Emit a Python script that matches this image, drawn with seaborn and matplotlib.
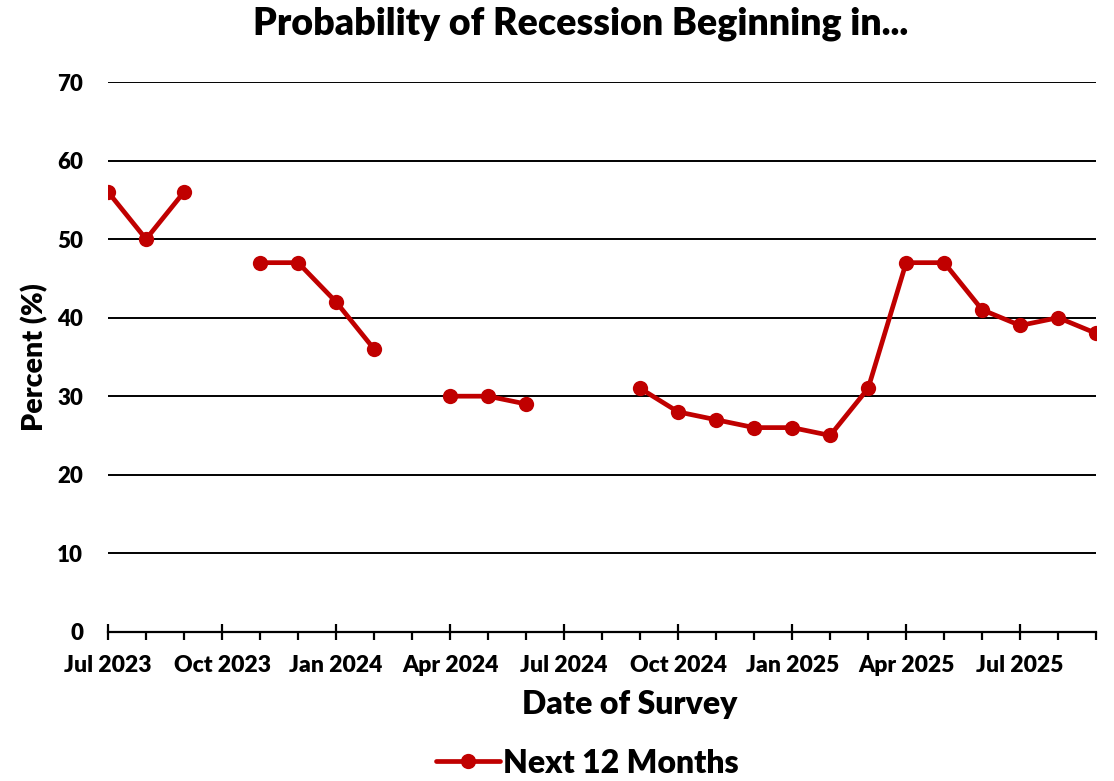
import numpy as np
import pandas as pd
import matplotlib
matplotlib.use("Agg")
import matplotlib.pyplot as plt
from matplotlib.lines import Line2D
from matplotlib.ticker import MultipleLocator, FixedLocator
import seaborn as sns

# Survey months (monthly, Jul 2023 .. Sep 2025) and probabilities (%)
months = ["Jul 2023", "Aug 2023", "Sep 2023", "Oct 2023", "Nov 2023", "Dec 2023",
          "Jan 2024", "Feb 2024", "Mar 2024", "Apr 2024", "May 2024", "Jun 2024",
          "Jul 2024", "Aug 2024", "Sep 2024", "Oct 2024", "Nov 2024", "Dec 2024",
          "Jan 2025", "Feb 2025", "Mar 2025", "Apr 2025", "May 2025", "Jun 2025",
          "Jul 2025", "Aug 2025", "Sep 2025"]
next_12_months = [56, 50, 56, np.nan, 47, 47,
                  42, 36, np.nan, 30, 30, 29,
                  np.nan, np.nan, 31, 28, 27, 26,
                  26, 25, 31, 47, 47, 41,
                  39, 40, 38]
quarter_labels = ["Jul 2023", "Oct 2023", "Jan 2024", "Apr 2024", "Jul 2024",
                  "Oct 2024", "Jan 2025", "Apr 2025", "Jul 2025"]

RED = "#C00000"
WEIGHT = "heavy"

df = pd.DataFrame({"month": months, "value": next_12_months})
df["pos"] = np.arange(len(df))
# split the series into runs of consecutive survey months
df["segment"] = df["value"].isna().cumsum()
df = df.dropna(subset=["value"])

sns.set_theme(style="white")
plt.rcParams["font.family"] = ["Lato", "DejaVu Sans"]
plt.rcParams["font.weight"] = WEIGHT
plt.rcParams["text.color"] = "black"

fig = plt.figure(figsize=(11.14, 7.81), dpi=100)
ax = fig.add_axes([0.097, 0.191, 0.887, 0.704])

sns.lineplot(data=df, x="pos", y="value", units="segment", estimator=None,
             color=RED, linewidth=3.4, marker="o", markersize=11,
             markeredgewidth=0, ax=ax, legend=False)

ax.set_xlim(0, len(months) - 1)
ax.set_ylim(0, 70)
ax.yaxis.set_major_locator(MultipleLocator(10))
ax.grid(axis="y", color="black", linewidth=1.4)
ax.grid(axis="x", visible=False)
ax.set_axisbelow(True)

quarter_pos = [months.index(q) for q in quarter_labels]
ax.xaxis.set_major_locator(FixedLocator(quarter_pos))
ax.set_xticklabels(quarter_labels)
ax.xaxis.set_minor_locator(FixedLocator(list(range(len(months)))))

for side in ["top", "right", "left"]:
    ax.spines[side].set_visible(False)
ax.spines["bottom"].set_color("black")
ax.spines["bottom"].set_linewidth(1.6)
ax.spines["bottom"].set_zorder(1)

ax.tick_params(axis="x", which="major", direction="inout", length=12, width=1.6,
               color="black", bottom=True, labelsize=16.5, pad=11)
ax.tick_params(axis="x", which="minor", direction="out", length=6, width=1.6,
               color="black", bottom=True)
ax.tick_params(axis="y", which="major", length=0, labelsize=16, pad=18)
for lbl in ax.get_xticklabels() + ax.get_yticklabels():
    lbl.set_fontweight(WEIGHT)
    lbl.set_color("black")

ax.set_xlabel("Date of Survey", fontsize=23, fontweight=WEIGHT, color="black")
ax.xaxis.set_label_coords(0.528, -0.105)
ax.set_ylabel("Percent (%)", fontsize=20.5, fontweight=WEIGHT, color="black")
ax.yaxis.set_label_coords(-0.061, 0.5)
fig.text(0.5216, 0.969, "Probability of Recession Beginning in...", fontsize=27,
         fontweight=WEIGHT, color="black", ha="center", va="center")

handle = Line2D([], [], color=RED, linewidth=3.4, marker="o", markersize=11,
                markeredgewidth=0)
leg = fig.legend([handle], ["Next 12 Months"], loc="center", bbox_to_anchor=(0.527, 0.023),
                 frameon=False, prop={"size": 23, "weight": WEIGHT}, handlelength=2.0,
                 handletextpad=0.1)
for t in leg.get_texts():
    t.set_color("black")

fig.savefig("out.png", dpi=100, facecolor="white")
